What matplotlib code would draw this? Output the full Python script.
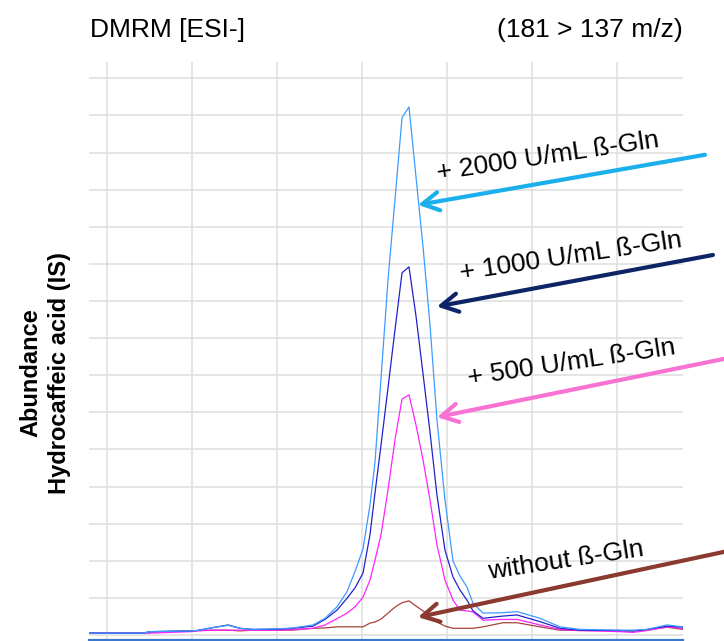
import matplotlib
matplotlib.use("Agg")
import numpy as np
import matplotlib.pyplot as plt

plt.rcParams.update({"font.family": ["Liberation Sans", "DejaVu Sans"]})

# retention time (grid units) shared by all traces
rt = [-0.212, 0.424, 0.506, 0.976, 1.059, 1.247, 1.424, 1.565, 1.718, 2.035,
      2.188, 2.424, 2.565, 2.706, 2.824, 2.918, 3.012, 3.094, 3.153, 3.224,
      3.306, 3.388, 3.471, 3.553, 3.635, 3.718, 3.800, 3.882, 3.976, 4.071,
      4.153, 4.235, 4.306, 4.424, 4.659, 4.824, 5.094, 5.329, 5.565, 6.035,
      6.188, 6.353, 6.588, 6.776]

gln_2000 = [0.05, 0.05, 0.09, 0.11, 0.12, 0.20, 0.26, 0.18, 0.15, 0.17,
            0.19, 0.27, 0.45, 0.76, 1.17, 1.71, 2.32, 3.50, 4.66, 6.93,
            9.57, 11.73, 13.94, 14.23, 12.35, 10.46, 8.36, 5.80, 3.64, 1.99,
            1.59, 1.29, 0.86, 0.59, 0.60, 0.63, 0.45, 0.22, 0.15, 0.13,
            0.13, 0.15, 0.27, 0.22]
gln_1000 = [0.05, 0.05, 0.09, 0.11, 0.12, 0.20, 0.27, 0.18, 0.15, 0.16,
            0.18, 0.24, 0.42, 0.67, 0.99, 1.27, 1.67, 2.70, 3.83, 5.12,
            6.66, 8.22, 9.76, 9.92, 8.60, 7.04, 5.47, 3.77, 2.29, 1.56,
            1.21, 0.94, 0.65, 0.45, 0.51, 0.54, 0.36, 0.18, 0.13, 0.12,
            0.11, 0.15, 0.24, 0.21]
gln_500 = [0.05, 0.05, 0.05, 0.09, 0.11, 0.13, 0.13, 0.13, 0.13, 0.13,
           0.15, 0.18, 0.27, 0.44, 0.59, 0.76, 1.02, 1.48, 2.02, 2.70,
           3.91, 5.26, 6.36, 6.47, 5.66, 4.72, 3.64, 2.43, 1.48, 0.94,
           0.67, 0.65, 0.62, 0.40, 0.42, 0.42, 0.27, 0.15, 0.12, 0.09,
           0.07, 0.12, 0.22, 0.18]
gln_none = [0.05, 0.05, 0.08, 0.11, 0.12, 0.13, 0.13, 0.11, 0.13, 0.13,
            0.13, 0.18, 0.19, 0.22, 0.22, 0.22, 0.22, 0.32, 0.35, 0.43,
            0.59, 0.75, 0.87, 0.92, 0.78, 0.65, 0.49, 0.35, 0.24, 0.18,
            0.18, 0.18, 0.18, 0.22, 0.33, 0.33, 0.22, 0.13, 0.12, 0.12,
            0.11, 0.13, 0.21, 0.15]

labels = ["+ 2000 U/mL ß-Gln", "+ 1000 U/mL ß-Gln", "+ 500 U/mL ß-Gln", "without ß-Gln"]
# arrow tips on the traces (rt, abundance)
tips = [(3.659, 11.59), (3.882, 8.85), (3.882, 5.87), (3.659, 0.48)]

fig = plt.figure(figsize=(7.24, 6.41), dpi=100)
ax = fig.add_axes([0.1229, 0.00156, 0.8204, 0.9017])
ax.set_xlim(-0.212, 6.776)
ax.set_ylim(-0.135, 15.44)
ax.set_xticks(np.arange(0, 7))
ax.set_yticks(np.arange(0, 16))
ax.tick_params(length=0, labelbottom=False, labelleft=False)
ax.grid(True, color="#dedede", lw=1.1)
ax.set_axisbelow(True)
for s in ("top", "left", "right"):
    ax.spines[s].set_visible(False)
ax.spines["bottom"].set_color("#3a78d0")
ax.spines["bottom"].set_linewidth(1.6)

ax.plot(rt, gln_none, color="#a8423c", lw=0.9)
ax.plot(rt, gln_500, color="#ff22ff", lw=0.9)
ax.plot(rt, gln_1000, color="#2222cc", lw=0.9)
ax.plot(rt, gln_2000, color="#3d9bff", lw=0.9)

# annotations: arrow tails sit outside the axes on the right
arrow_cols = ["#1bb0ec", "#0d2466", "#f772d2", "#8a3a2e"]
tails = [(7.035, 12.94), (7.129, 10.24), (7.259, 7.44), (7.259, 2.24)]
text_pos = [(5.19, 12.90), (5.46, 10.20), (5.47, 7.33), (5.40, 2.00)]
for lab, tip, tail, tp, c in zip(labels, tips, tails, text_pos, arrow_cols):
    ax.annotate("", xy=tip, xytext=tail, annotation_clip=False,
                arrowprops=dict(arrowstyle="->,head_length=0.6,head_width=0.33",
                                mutation_scale=20, lw=3, color=c,
                                shrinkA=0, shrinkB=0))
    ax.text(tp[0], tp[1], lab, rotation=8.5, rotation_mode="anchor",
            ha="center", va="center", fontsize=19, color="black")

fig.text(0.124, 0.953, "DMRM [ESI-]", ha="left", va="center", fontsize=19)
fig.text(0.943, 0.953, "(181 > 137 m/z)", ha="right", va="center", fontsize=19)
fig.text(0.062, 0.418, "Abundance\nHydrocaffeic acid (IS)", rotation=90,
         ha="center", va="center", fontsize=17, fontweight="bold",
         linespacing=1.3, multialignment="center")

fig.savefig("out.png", dpi=100, facecolor="white")
